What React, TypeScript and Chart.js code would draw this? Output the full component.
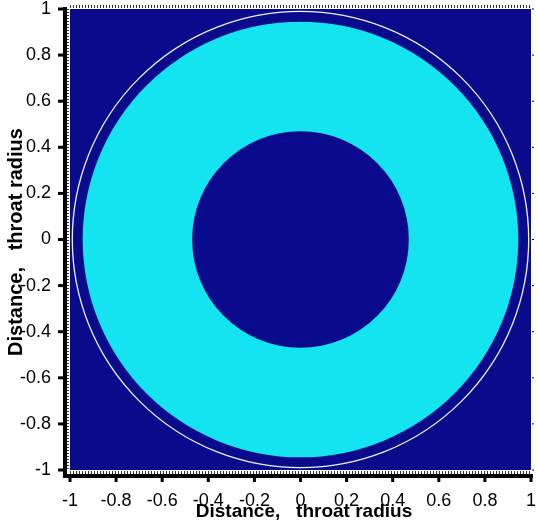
import React, { useEffect, useRef } from "react";
import { Chart, registerables } from "chart.js";

Chart.register(...registerables);

// Data
const tickValues = [-1, -0.8, -0.6, -0.4, -0.2, 0, 0.2, 0.4, 0.6, 0.8, 1];
const ringInnerRadius = [0.47];
const ringOuterRadius = [0.945];
const outlineRadius = [0.99];
const axisTitle = "Distance,   throat radius";

const NAVY = "#0A0A8C";
const CYAN = "#14E4F0";

const fmt = (v: number) => (Math.abs(v) < 1e-9 ? "0" : String(v));

const drawPlugin = {
  id: "annulus",
  beforeDatasetsDraw(chart: any) {
    const { ctx, chartArea, scales } = chart;
    const xs = scales.x;
    const ys = scales.y;
    const cx = xs.getPixelForValue(0);
    const cy = ys.getPixelForValue(0);
    const pxPerUnit = (xs.getPixelForValue(1) - xs.getPixelForValue(-1)) / 2;
    const pyPerUnit = (ys.getPixelForValue(-1) - ys.getPixelForValue(1)) / 2;
    ctx.save();
    ctx.beginPath();
    ctx.rect(chartArea.left, chartArea.top, chartArea.right - chartArea.left, chartArea.bottom - chartArea.top);
    ctx.clip();
    ctx.fillStyle = NAVY;
    ctx.fillRect(chartArea.left, chartArea.top, chartArea.right - chartArea.left, chartArea.bottom - chartArea.top);
    for (let i = 0; i < ringOuterRadius.length; i++) {
      ctx.beginPath();
      ctx.ellipse(cx, cy, ringOuterRadius[i] * pxPerUnit, ringOuterRadius[i] * pyPerUnit, 0, 0, Math.PI * 2);
      ctx.ellipse(cx, cy, ringInnerRadius[i] * pxPerUnit, ringInnerRadius[i] * pyPerUnit, 0, 0, Math.PI * 2, true);
      ctx.fillStyle = CYAN;
      ctx.fill("evenodd");
    }
    for (const r of outlineRadius) {
      ctx.beginPath();
      ctx.ellipse(cx, cy, r * pxPerUnit, r * pyPerUnit, 0, 0, Math.PI * 2);
      ctx.strokeStyle = "#E8F4FF";
      ctx.lineWidth = 1.3;
      ctx.stroke();
    }
    ctx.restore();

    // dotted frame strips
    ctx.save();
    ctx.fillStyle = "#333";
    for (let x = chartArea.left; x < chartArea.right; x += 3) {
      ctx.fillRect(x, chartArea.top - 4, 1, 3);
      ctx.fillRect(x, chartArea.bottom + 1, 1, 3);
    }
    for (let y = chartArea.top; y < chartArea.bottom; y += 3) {
      ctx.fillRect(chartArea.left - 3, y, 2, 1);
    }
    // axes
    ctx.fillStyle = "#000";
    ctx.fillRect(chartArea.left - 7, chartArea.top - 2, 4, chartArea.bottom - chartArea.top + 9);
    ctx.fillRect(chartArea.left - 7, chartArea.bottom + 4, chartArea.right - chartArea.left + 9, 4);
    for (const v of tickValues) {
      const y = ys.getPixelForValue(v);
      ctx.fillRect(chartArea.left - 12, y - 1.5, 6, 3);
      ctx.fillRect(chartArea.right + 1, y - 0.5, 2, 1);
      const x = xs.getPixelForValue(v);
      ctx.fillRect(x - 1.5, chartArea.bottom + 7, 3, 5);
    }
    // titles
    ctx.textAlign = "center";
    ctx.textBaseline = "middle";
    ctx.font = "bold 19px 'Liberation Sans', Arial, sans-serif";
    ctx.fillText(axisTitle, 304, 512);
    ctx.font = "bold 20px 'Liberation Sans', Arial, sans-serif";
    ctx.translate(16, 242);
    ctx.rotate(-Math.PI / 2);
    ctx.fillText(axisTitle, 0, 0);
    ctx.restore();
  },
};

export default function App() {
  const ref = useRef<HTMLCanvasElement>(null);
  useEffect(() => {
    document.body.style.margin = "0";
    const tickFont = { family: "'Liberation Sans', Arial, sans-serif", size: 18 };
    const chart = new Chart(ref.current!, {
      type: "scatter",
      data: { datasets: [{ data: [], pointRadius: 0 }] },
      options: {
        animation: false,
        responsive: false,
        layout: { padding: { top: 9, right: 8, left: 0, bottom: 0 } },
        plugins: { legend: { display: false }, tooltip: { enabled: false } },
        scales: {
          x: {
            type: "linear",
            min: -1,
            max: 1,
            afterBuildTicks: (s: any) => { s.ticks = tickValues.map((v) => ({ value: v })); },
            afterFit: (s: any) => { s.height = 56; s.paddingLeft = 0; s.paddingRight = 0; },
            grid: { display: false },
            border: { display: false },
            ticks: { font: tickFont, color: "#000", padding: 12, maxRotation: 0, autoSkip: false, callback: (v: any) => fmt(Number(v)) },
          },
          y: {
            type: "linear",
            min: -1,
            max: 1,
            afterBuildTicks: (s: any) => { s.ticks = tickValues.map((v) => ({ value: v })); },
            afterFit: (s: any) => { s.width = 70; s.paddingTop = 0; s.paddingBottom = 0; },
            grid: { display: false },
            border: { display: false },
            ticks: { font: tickFont, color: "#000", padding: 11, autoSkip: false, callback: (v: any) => fmt(Number(v)) },
          },
        },
      },
      plugins: [drawPlugin],
    });
    return () => chart.destroy();
  }, []);
  return (
    <div style={{ position: "absolute", left: 0, top: 0, width: 539, height: 526, background: "#fff" }}>
      <canvas ref={ref} width={539} height={526} style={{ width: 539, height: 526 }} />
    </div>
  );
}
